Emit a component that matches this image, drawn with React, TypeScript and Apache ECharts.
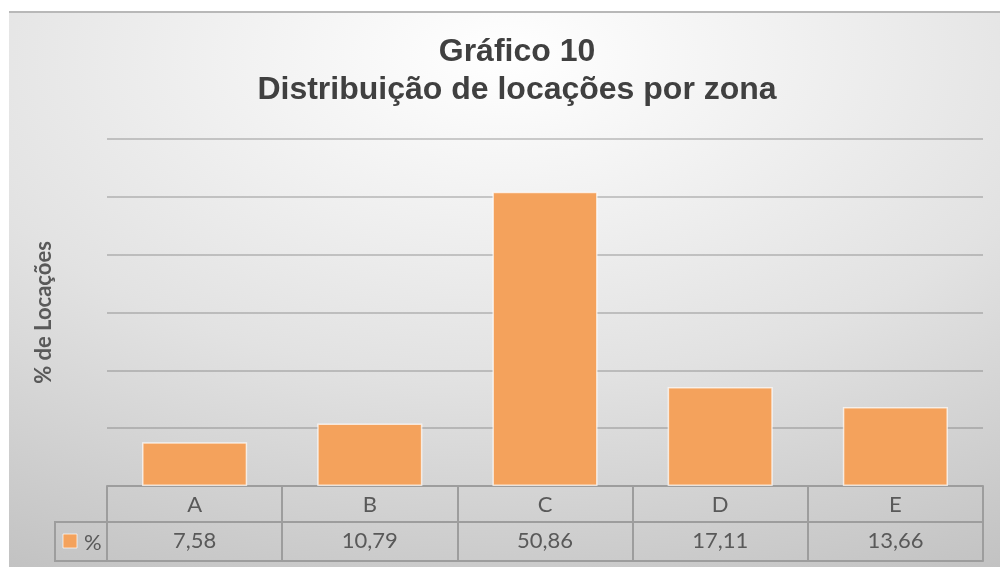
import React, { useEffect, useRef } from "react";
import * as echarts from "echarts";

const categories = ["A", "B", "C", "D", "E"];
const values = [7.58, 10.79, 50.86, 17.11, 13.66];
const seriesName = "%";
const titleLines = ["Gráfico 10", "Distribuição de locações por zona"];
const yAxisName = "% de Locações";
const yMin = 0;
const yMax = 60;
const yInterval = 10;

const fmt = (v: number) => v.toFixed(2).replace(".", ",");

const BAR = "#f4a25c";
const LINE = "#9d9d9d";
const TEXT = "#595959";

export default function App() {
  const ref = useRef<HTMLDivElement>(null);
  useEffect(() => {
    if (!ref.current) return;
    const chart = echarts.init(ref.current, undefined, { renderer: "svg" });
    const gridLeft = 98;
    const gridTop = 128;
    const gridW = 876;
    const gridH = 347;
    const base = gridTop + gridH;
    chart.setOption({
      animation: false,
      backgroundColor: {
        type: "radial",
        x: 0.5,
        y: 0.08,
        r: 1.05,
        colorStops: [
          { offset: 0, color: "#ffffff" },
          { offset: 0.55, color: "#e2e2e2" },
          { offset: 1, color: "#c2c2c2" },
        ],
      },
      title: {
        text: titleLines.join("\n"),
        left: 503,
        top: 15,
        textAlign: "center",
        textStyle: {
          fontFamily: "Liberation Sans",
          fontWeight: "bold",
          fontSize: 32,
          lineHeight: 38,
          color: "#404040",
        },
      },
      grid: { left: gridLeft, top: gridTop, width: gridW, height: gridH },
      xAxis: [
        {
          type: "category",
          data: categories,
          position: "bottom",
          axisLine: { show: true, lineStyle: { color: LINE, width: 2 } },
          axisTick: { show: true, length: 75, interval: 0, lineStyle: { color: LINE, width: 2 } },
          axisLabel: { margin: 6, fontFamily: "Lato", fontSize: 22, color: TEXT, interval: 0 },
          splitLine: { show: false },
        },
        {
          type: "category",
          data: categories,
          position: "bottom",
          offset: 36,
          axisLine: { show: true, lineStyle: { color: LINE, width: 2 } },
          axisTick: { show: false },
          axisLabel: {
            margin: 6,
            fontFamily: "Lato",
            fontSize: 22,
            color: TEXT,
            interval: 0,
            formatter: (_v: string, i: number) => fmt(values[i]),
          },
          splitLine: { show: false },
        },
        {
          type: "category",
          data: categories,
          position: "bottom",
          offset: 75,
          axisLine: { show: true, lineStyle: { color: LINE, width: 2 } },
          axisTick: { show: false },
          axisLabel: { show: false },
          splitLine: { show: false },
        },
      ],
      yAxis: {
        type: "value",
        min: yMin,
        max: yMax,
        interval: yInterval,
        name: yAxisName,
        nameLocation: "middle",
        nameGap: 54,
        nameTextStyle: { fontFamily: "Lato", fontWeight: "bold", fontSize: 22, color: TEXT },
        axisLabel: { show: false },
        axisLine: { show: false },
        axisTick: { show: false },
        splitLine: { show: true, lineStyle: { color: "rgba(110,110,110,0.45)", width: 1.5 } },
      },
      series: [
        {
          name: seriesName,
          type: "bar",
          xAxisIndex: 0,
          data: values,
          barWidth: "60%",
          itemStyle: { color: BAR, borderColor: "rgba(255,255,255,0.7)", borderWidth: 1.5 },
        },
      ],
      graphic: [
        {
          type: "line",
          shape: { x1: 0, y1: 1, x2: 991, y2: 1 },
          style: { stroke: "#b8b8b8", lineWidth: 2 },
        },
        {
          type: "polyline",
          shape: { points: [[gridLeft, base + 36], [46, base + 36], [46, base + 75], [gridLeft, base + 75]] },
          style: { stroke: LINE, lineWidth: 2, fill: null },
        },
        {
          type: "rect",
          shape: { x: 54, y: base + 48, width: 14, height: 14 },
          style: { fill: BAR, stroke: "rgba(255,255,255,0.7)", lineWidth: 1 },
        },
        {
          type: "text",
          x: 75,
          y: base + 55,
          style: {
            text: seriesName,
            fontFamily: "Lato",
            fontSize: 22,
            fill: TEXT,
            verticalAlign: "middle",
            align: "left",
          },
        },
      ],
    });
    return () => chart.dispose();
  }, []);
  return (
    <div
      ref={ref}
      style={{ position: "fixed", left: 9, top: 11, width: 991, height: 556 }}
    />
  );
}
